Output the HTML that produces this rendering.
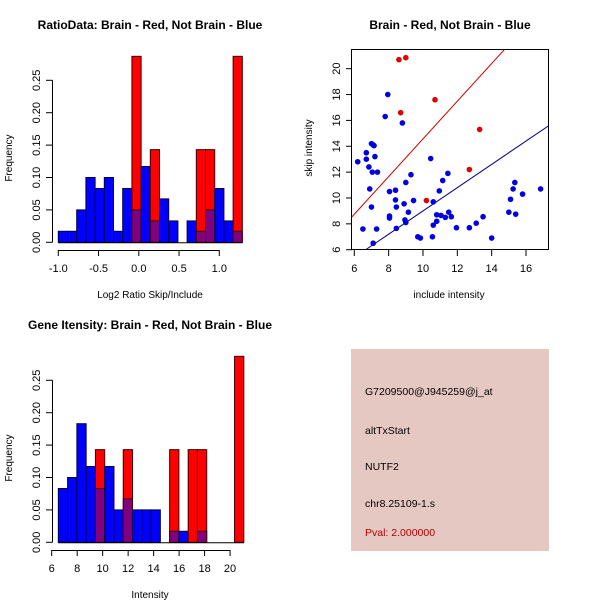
<!DOCTYPE html>
<html><head><meta charset="utf-8"><style>
html,body{margin:0;padding:0;background:#fff;}
svg{display:block;font-family:"Liberation Sans",Arial,sans-serif;}
</style></head><body>
<svg id="chart" width="600" height="600" viewBox="0 0 600 600" xmlns="http://www.w3.org/2000/svg"></svg>
<script>
// ---- Data: ratio histogram (top-left) ----
const ratioBlue = [0.017,0.017,0.05,0.1,0.083,0.1,0.017,0.083,0.05,0.117,0.033,0.067,0.033,0,0.033,0.017,0.05,0.083,0.033,0.017];
const ratioRed  = [0,0,0,0,0,0,0,0,0.287,0,0.143,0,0,0,0,0.143,0.143,0,0,0.287];
const ratioStart = -1.0, ratioBinW = 0.1143;
const ratioXTicks = [-1.0,-0.5,0.0,0.5,1.0];
const freqTicks = [0,0.05,0.1,0.15,0.2,0.25];
// ---- Data: intensity histogram (bottom-left) ----
const intBlue = [0.083,0.1,0.183,0.117,0.083,0.117,0.05,0.067,0.05,0.05,0.05,0,0.017,0.017,0,0.017,0,0,0,0];
const intRed  = [0,0,0,0,0.143,0,0,0.143,0,0,0,0,0.143,0,0.143,0.143,0,0,0,0.287];
const intStart = 6.52, intBinW = 0.728;
const intXTicks = [6,8,10,12,14,16,18,20];
// ---- Data: scatter (top-right) ----
const blueX = [6.2,6.5,6.7,6.7,6.85,6.9,7.0,7.1,7.15,7.2,7.05,7.35,7.0,7.3,7.1,7.8,7.95,8.05,8.05,8.05,8.4,8.4,8.45,8.45,8.8,8.9,8.95,9.0,9.0,9.15,9.3,9.45,9.7,9.85,10.45,10.55,10.6,10.6,10.8,10.8,10.95,11.05,11.15,11.3,11.45,11.5,11.65,11.95,12.7,13.1,13.5,14.0,15.0,15.1,15.25,15.35,15.4,15.8,16.85];
const blueY = [12.8,7.6,13.5,13.0,12.4,10.7,14.2,14.1,14.05,13.2,12.0,12.0,9.3,7.6,6.5,16.3,18.0,10.5,8.6,8.45,10.6,9.85,9.3,7.65,15.8,9.55,8.3,8.1,11.2,8.9,11.8,9.8,7.0,6.9,13.05,7.0,9.7,7.9,8.7,8.2,10.55,8.65,11.35,8.5,11.9,8.9,8.55,7.7,7.7,8.05,8.55,6.9,8.9,9.9,10.7,11.2,8.75,10.3,10.7];
const redX = [8.6,9.0,8.7,10.7,13.3,12.7,10.2];
const redY = [20.7,20.85,16.6,17.6,15.3,12.2,9.8];
const redSlope = 1.457, blueSlope = 0.9;
const scXTicks = [6,8,10,12,14,16];
const scYTicks = [6,8,10,12,14,16,18,20];
const infoLines = ["G7209500@J945259@j_at","altTxStart","NUTF2","chr8.25109-1.s"];
const pvalText = "Pval: 2.000000";

const svg = document.getElementById('chart');
const NS = 'http://www.w3.org/2000/svg';
function mk(tag, attrs, parent){ const e=document.createElementNS(NS,tag); for(const k in attrs) e.setAttribute(k,attrs[k]); (parent||svg).appendChild(e); return e; }
function txt(s, attrs, parent){ const e=mk('text',attrs,parent); e.textContent=s; return e; }

function hist(g, blue, red, start, binW, xScale, yScale, xTicks, xLabels, axisY, title, xlab, titleY, xlabY){
  const gg = mk('g',{},g);
  
  
  for(let i=0;i<blue.length;i++){
    const x0=xScale(start+i*binW), x1=xScale(start+(i+1)*binW);
    if(red[i]>0){
      const r=mk('rect',{x:x0,y:yScale(red[i]),width:x1-x0,height:yScale(0)-yScale(red[i]),fill:'#ff0000',stroke:'#400000','stroke-width':1},gg);
      
      
      if(blue[i]>0){
        const p=mk('rect',{x:x0,y:yScale(blue[i]),width:x1-x0,height:yScale(0)-yScale(blue[i]),fill:'#80007f',stroke:'#400000','stroke-width':1},gg);
        
        
      }
    } else if(blue[i]>0){
      const b=mk('rect',{x:x0,y:yScale(blue[i]),width:x1-x0,height:yScale(0)-yScale(blue[i]),fill:'#0000ff',stroke:'#000040','stroke-width':1},gg);
      
      
    }
  }
  // baseline
  mk('line',{x1:xScale(start),x2:xScale(start+blue.length*binW),y1:yScale(0)+0.5,y2:yScale(0)+0.5,stroke:'#000','stroke-width':1},gg);
  // y axis
  const ya=mk('g',{},gg);
  
  
  mk('line',{x1:52.5,x2:52.5,y1:yScale(0),y2:yScale(0.25),stroke:'#000'},ya);
  freqTicks.forEach(t=>{
    const y=yScale(t);
    mk('line',{x1:46,x2:52.5,y1:y,y2:y,stroke:'#000'},ya);
    const l=txt(t.toFixed(2),{x:40,y:y,'font-size':11,'text-anchor':'middle',transform:`rotate(-90 40 ${y})`},ya);
  });
  txt('Frequency',{x:12,y:yScale(0.13),'font-size':10,'text-anchor':'middle',transform:`rotate(-90 12 ${yScale(0.13)})`},ya);
  // x axis
  const xa=mk('g',{},gg);
  
  
  mk('line',{x1:xScale(xTicks[0]),x2:xScale(xTicks[xTicks.length-1]),y1:axisY+0.5,y2:axisY+0.5,stroke:'#000'},xa);
  xTicks.forEach((t,i)=>{
    const x=xScale(t);
    mk('line',{x1:x,x2:x,y1:axisY,y2:axisY+6,stroke:'#000'},xa);
    txt(xLabels[i],{x:x,y:axisY+22,'font-size':11,'text-anchor':'middle'},xa);
  });
  txt(xlab,{x:150,y:xlabY,'font-size':10,'text-anchor':'middle'},xa);
  const tt=txt(title,{x:150,y:titleY,'font-size':12,'font-weight':'bold','text-anchor':'middle'},gg);
  
  
}

const freqPx = 32.4/0.05;
// top-left
hist(svg, ratioBlue, ratioRed, ratioStart, ratioBinW,
  v=>58.3+(v+1)*80.5, v=>242.3-v*freqPx,
  ratioXTicks, ratioXTicks.map(t=>t.toFixed(1)), 250, 'RatioData: Brain - Red, Not Brain - Blue', 'Log2 Ratio Skip/Include', 29, 298);
// bottom-left
hist(svg, intBlue, intRed, intStart, intBinW,
  v=>51.7+(v-6)*12.74, v=>542.3-v*freqPx,
  intXTicks, intXTicks.map(String), 550, 'Gene Itensity: Brain - Red, Not Brain - Blue', 'Intensity', 329, 598);

// scatter
const sx = v=>354.3+(v-6)*17.17, sy = v=>249.7-(v-6)*12.93;
const sg = mk('g',{});


mk('rect',{x:351.5,y:49.5,width:197,height:200,fill:'none',stroke:'#000'},sg);
const clip = mk('clipPath',{id:'scClip'},sg); mk('rect',{x:352,y:50,width:196,height:199},clip);
const lg = mk('g',{'clip-path':'url(#scClip)'},sg);
const rl=mk('line',{x1:sx(5),y1:sy(5*redSlope),x2:sx(18),y2:sy(18*redSlope),stroke:'#cc0000','stroke-width':1},lg);


const bl=mk('line',{x1:sx(5),y1:sy(5*blueSlope),x2:sx(18),y2:sy(18*blueSlope),stroke:'#00008b','stroke-width':1},lg);


blueX.forEach((x,i)=>{ const c=mk('circle',{cx:sx(x),cy:sy(blueY[i]),r:2.8,fill:'#0000e0'},lg);
  
   });
redX.forEach((x,i)=>{ const c=mk('circle',{cx:sx(x),cy:sy(redY[i]),r:2.8,fill:'#e00000'},lg);
  
   });
scXTicks.forEach(t=>{ const x=sx(t); mk('line',{x1:x,x2:x,y1:250,y2:256,stroke:'#000'},sg); txt(String(t),{x:x,y:272,'font-size':11,'text-anchor':'middle'},sg); });
scYTicks.forEach(t=>{ const y=sy(t); mk('line',{x1:346,x2:352,y1:y,y2:y,stroke:'#000'},sg); txt(String(t),{x:340,y:y,'font-size':11,'text-anchor':'middle',transform:`rotate(-90 340 ${y})`},sg); });
txt('include intensity',{x:449,y:298,'font-size':10,'text-anchor':'middle'},sg);
txt('skip intensity',{x:312,y:148,'font-size':10,'text-anchor':'middle',transform:'rotate(-90 312 148)'},sg);
txt('Brain - Red, Not Brain - Blue',{x:450,y:29,'font-size':12,'font-weight':'bold','text-anchor':'middle'},sg);

// info box
const ig = mk('g',{});


mk('rect',{x:351,y:349,width:198,height:202,fill:'#e5c8c2'},ig);
const ys=[395,434,470,507];
infoLines.forEach((s,i)=>{ const t=txt(s,{x:365,y:ys[i],'font-size':10.5,fill:'#000'},ig);
  
   });
const pv=txt(pvalText,{x:365,y:536,'font-size':10.5,fill:'#b00000'},ig);


</script>
</body></html>
